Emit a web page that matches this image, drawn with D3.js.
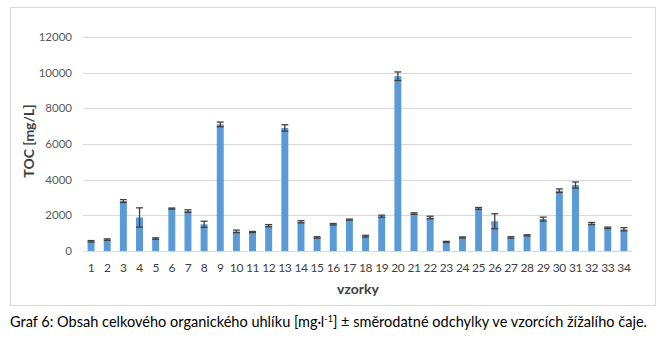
<!DOCTYPE html>
<html>
<head>
<meta charset="utf-8">
<script src="https://cdn.jsdelivr.net/npm/d3@7.9.0/dist/d3.min.js"></script>
<style>
  body { margin: 0; background: #fff; }
  svg { display: block; font-family: Lato, "Open Sans", sans-serif; }
</style>
</head>
<body>
<svg id="chart" width="666" height="337"></svg>
<script>
// sample numbers 1..34 and their TOC values (mg/L) with standard deviations
const samples = d3.range(1, 35).map(String);
const tocValues = [545, 640, 2800, 1880, 700, 2380, 2240, 1500, 7100, 1100,
                   1065, 1420, 6900, 1640, 760, 1500, 1760, 830, 1950, 9800,
                   2100, 1880, 510, 760, 2390, 1670, 760, 880, 1790, 3380,
                   3700, 1540, 1300, 1220];
const tocErrors = [40, 40, 80, 540, 40, 30, 70, 170, 130, 70,
                   30, 60, 180, 60, 40, 40, 30, 50, 60, 240,
                   40, 70, 30, 30, 50, 420, 40, 30, 110, 100,
                   170, 60, 40, 90];
const yTicks = [0, 2000, 4000, 6000, 8000, 10000, 12000];

const svg = d3.select('#chart');

// chart frame
svg.append('rect')
   .attr('x', 10.5).attr('y', 7.5)
   .attr('width', 645).attr('height', 298)
   .attr('fill', '#fff')
   .attr('stroke', '#d9d9d9');

const x = d3.scaleBand().domain(samples).range([83, 632]).paddingInner(0.57).paddingOuter(0.285);
const y = d3.scaleLinear().domain([0, 12000]).range([251, 37]);

// gridlines + y labels
const grid = svg.append('g');
yTicks.forEach(t => {
  grid.append('line')
      .attr('x1', 83).attr('x2', 632)
      .attr('y1', Math.round(y(t)) + 0.5).attr('y2', Math.round(y(t)) + 0.5)
      .attr('stroke', '#d9d9d9');
  grid.append('text')
      .attr('x', 72).attr('y', y(t))
      .attr('dy', '0.35em')
      .attr('text-anchor', 'end')
      .attr('font-size', 11.5)
      .attr('fill', '#595959')
      .text(t);
});

// bars
svg.append('g').selectAll('rect')
   .data(tocValues)
   .join('rect')
   .attr('x', (d, i) => x(samples[i]))
   .attr('y', d => y(d))
   .attr('width', x.bandwidth())
   .attr('height', d => y(0) - y(d))
   .attr('fill', '#5b9bd5');

// error bars
const err = svg.append('g').attr('stroke', '#404040').attr('stroke-width', 1.3);
tocValues.forEach((v, i) => {
  const cx = x(samples[i]) + x.bandwidth() / 2;
  const hi = y(v + tocErrors[i]), lo = y(v - tocErrors[i]);
  const w = x.bandwidth() / 2;
  err.append('line').attr('x1', cx).attr('x2', cx).attr('y1', hi).attr('y2', lo);
  err.append('line').attr('x1', cx - w).attr('x2', cx + w).attr('y1', hi).attr('y2', hi);
  err.append('line').attr('x1', cx - w).attr('x2', cx + w).attr('y1', lo).attr('y2', lo);
});

// x labels
svg.append('g').selectAll('text')
   .data(samples)
   .join('text')
   .attr('x', d => x(d) + x.bandwidth() / 2)
   .attr('y', 268)
   .attr('dy', '0.35em')
   .attr('text-anchor', 'middle')
   .attr('font-size', 12)
   .attr('letter-spacing', -0.4)
   .attr('fill', '#404040')
   .text(d => d);

// axis titles
svg.append('text')
   .attr('x', 358).attr('y', 289)
   .attr('dy', '0.35em')
   .attr('text-anchor', 'middle')
   .attr('font-size', 14).attr('font-weight', 'bold')
   .attr('fill', '#404040')
   .text('vzorky');

svg.append('text')
   .attr('transform', 'translate(29,141) rotate(-90)')
   .attr('dy', '0.35em')
   .attr('text-anchor', 'middle')
   .attr('font-size', 14).attr('font-weight', 'bold')
   .attr('fill', '#404040')
   .text('TOC [mg/L]');

// caption below the frame
const cap = svg.append('text')
   .attr('x', 10).attr('y', 327)
   .attr('font-size', 14)
   .attr('fill', '#000');
cap.append('tspan').text('Graf 6: Obsah celkového organického uhlíku [mg·l');
cap.append('tspan').attr('baseline-shift', 'super').attr('font-size', 9).text('-1');
cap.append('tspan').text('] ± směrodatné odchylky ve vzorcích žížalího čaje.');

// squeeze the caption to the same width as the original
const capW = cap.node().getComputedTextLength();
if (capW > 0) cap.attr('font-size', 14 * 638 / capW);
</script>
</body>
</html>
